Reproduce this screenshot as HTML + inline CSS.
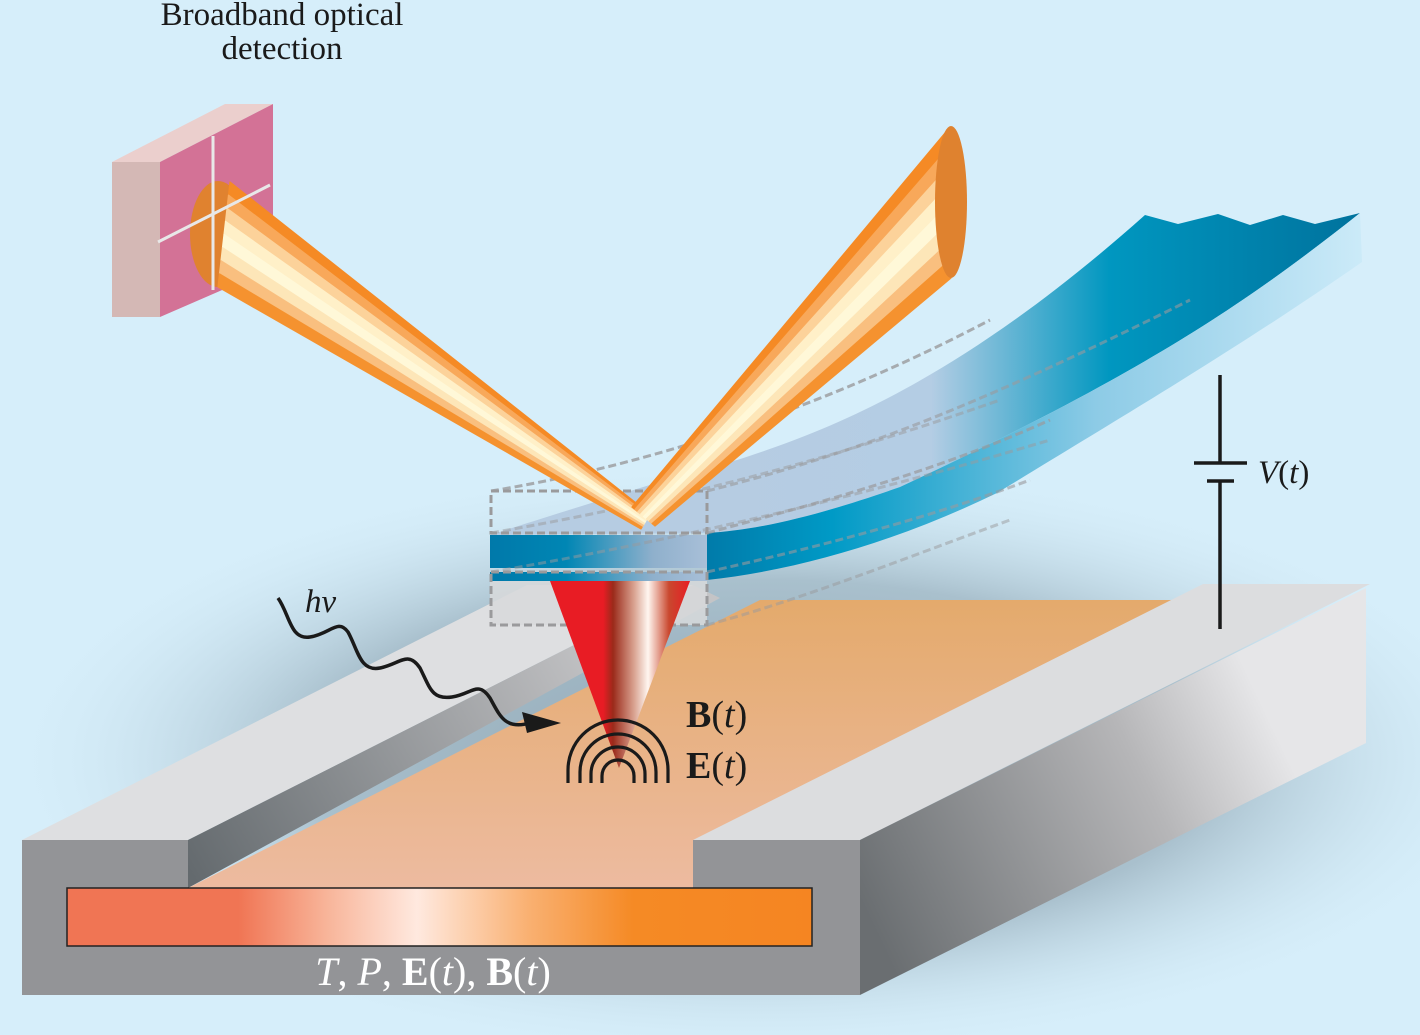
<!DOCTYPE html>
<html><head><meta charset="utf-8"><style>
html,body{margin:0;padding:0;background:#d6eefa;width:1420px;height:1035px;overflow:hidden;}
svg{display:block;}
text{font-family:"Liberation Serif",serif;}
</style></head><body>
<svg width="1420" height="1035" viewBox="0 0 1420 1035" xmlns="http://www.w3.org/2000/svg">
<defs>
<radialGradient id="shad" cx="0.5" cy="0.5" r="0.5">
<stop offset="0" stop-color="#8fa5b2"/><stop offset="0.6" stop-color="#a9c0cd"/><stop offset="1" stop-color="#d6eefa" stop-opacity="0"/>
</radialGradient>
<linearGradient id="bar" x1="67" y1="0" x2="812" y2="0" gradientUnits="userSpaceOnUse">
<stop offset="0" stop-color="#f07554"/><stop offset="0.23" stop-color="#f07554"/><stop offset="0.35" stop-color="#f8b59a"/><stop offset="0.47" stop-color="#ffe9df"/><stop offset="0.62" stop-color="#f9b071"/><stop offset="0.76" stop-color="#f58a25"/><stop offset="1" stop-color="#f58522"/>
</linearGradient>
<linearGradient id="floor" x1="0" y1="600" x2="0" y2="888" gradientUnits="userSpaceOnUse">
<stop offset="0" stop-color="#e4aa6c"/><stop offset="1" stop-color="#edbba0"/>
</linearGradient>
<linearGradient id="side" x1="860" y1="900" x2="1365" y2="660" gradientUnits="userSpaceOnUse">
<stop offset="0" stop-color="#6a6e71"/><stop offset="0.55" stop-color="#b6b6b8"/><stop offset="0.8" stop-color="#e6e6e8"/><stop offset="1" stop-color="#e6e6e8"/>
</linearGradient>
<linearGradient id="wall" x1="188" y1="870" x2="600" y2="640" gradientUnits="userSpaceOnUse">
<stop offset="0" stop-color="#646a6e"/><stop offset="1" stop-color="#c4c4c6"/>
</linearGradient>
<linearGradient id="tip" x1="550" y1="0" x2="690" y2="0" gradientUnits="userSpaceOnUse">
<stop offset="0" stop-color="#e81c24"/><stop offset="0.38" stop-color="#e81c24"/><stop offset="0.45" stop-color="#9b2a1a"/><stop offset="0.6" stop-color="#d9a290"/><stop offset="0.7" stop-color="#fff6f0"/><stop offset="0.85" stop-color="#c9482f"/><stop offset="1" stop-color="#e81c24"/>
</linearGradient>
<linearGradient id="topface" x1="700" y1="0" x2="1360" y2="0" gradientUnits="userSpaceOnUse">
<stop offset="0" stop-color="#b6cce2"/><stop offset="0.35" stop-color="#b4cde4"/><stop offset="0.62" stop-color="#0097c0"/><stop offset="1" stop-color="#00729d"/>
</linearGradient>
<linearGradient id="frontface" x1="700" y1="0" x2="1360" y2="0" gradientUnits="userSpaceOnUse">
<stop offset="0" stop-color="#0079a8"/><stop offset="0.2" stop-color="#009ac6"/><stop offset="0.6" stop-color="#8dcbe6"/><stop offset="1" stop-color="#cbeaf8"/>
</linearGradient>
<linearGradient id="frontnear" x1="490" y1="0" x2="707" y2="0" gradientUnits="userSpaceOnUse">
<stop offset="0" stop-color="#0079aa"/><stop offset="0.35" stop-color="#0086b4"/><stop offset="0.75" stop-color="#8fb0cc"/><stop offset="1" stop-color="#a8bfd8"/>
</linearGradient>
</defs>
<rect width="1420" height="1035" fill="#d6eefa"/>
<ellipse cx="760" cy="760" rx="760" ry="300" fill="url(#shad)"/>

<polygon points="22,840 188,840 693,585 527,585" fill="#dedfe1"/>
<polygon points="188,840 693,585 720,598 188,888" fill="url(#wall)"/>
<polygon points="188,888 760,600 1175,600 693,888" fill="url(#floor)"/>
<polygon points="693,840 860,840 1370,584 1203,584" fill="#dcdddf"/>
<polygon points="860,840 1366,588 1366,743 860,995" fill="url(#side)"/>
<polygon points="22,840 188,840 188,888 693,888 693,840 860,840 860,995 22,995" fill="#939497"/>
<rect x="67" y="888" width="745" height="58" fill="url(#bar)" stroke="#222" stroke-width="1.5"/>
<text x="433" y="985" font-size="40" fill="#fff" text-anchor="middle"><tspan font-style="italic">T</tspan>, <tspan font-style="italic">P</tspan>, <tspan font-weight="bold">E</tspan>(<tspan font-style="italic">t</tspan>), <tspan font-weight="bold">B</tspan>(<tspan font-style="italic">t</tspan>)</text>

<path d="M490,535 C600,500 680,475 737,460 C830,430 960,380 1145,215 L1178,224 L1218,214 L1250,225 L1283,215 L1315,224 L1360,213 C1250,300 1150,370 900,487 C820,515 760,530 707,533 Z" fill="url(#topface)"/>
<path d="M707,533 C760,530 820,515 900,487 C1150,370 1250,300 1360,213 L1362,262 C1250,340 1150,400 997,493 C900,540 800,570 707,580 Z" fill="url(#frontface)"/>
<rect x="490" y="535" width="217" height="33" fill="url(#frontnear)"/>
<rect x="490" y="572" width="217" height="9" fill="url(#frontnear)"/>
<rect x="490" y="581" width="217" height="44" fill="#d8d9db" opacity="0.85"/>

<g fill="none" stroke="#9a9a9c" stroke-width="3" stroke-dasharray="8,4">
<rect x="491" y="491" width="216" height="42"/>
<rect x="491" y="572" width="216" height="53"/>
<path d="M491,491 C620,470 800,420 990,320" opacity="0.8"/>
<path d="M707,491 C830,460 950,420 1190,300" opacity="0.6"/>
<path d="M707,533 C850,495 950,465 1050,420" opacity="0.7"/>
<path d="M491,533 C650,505 800,470 1000,400" opacity="0.5"/>
<path d="M491,572 C650,545 850,500 1050,440" opacity="0.5"/>
<path d="M707,572 C850,540 950,510 1030,480" opacity="0.6"/>
<path d="M707,625 C800,600 900,560 1010,520" opacity="0.5"/>
</g>

<!-- detector -->
<polygon points="112,162 160,162 273,104 225,104" fill="#ebcfcd"/>
<polygon points="112,162 160,162 160,317 112,317" fill="#d4b8b5"/>
<polygon points="160,162 273,104 273,268 160,317" fill="#d37296"/>
<ellipse cx="218" cy="234" rx="28" ry="53" fill="#e0822f"/>

<!-- left beam strips -->
<g stroke-width="1.2" stroke-linejoin="round">
<polygon points="230,182 228.5,195.1 648.9,515.9 650,514" fill="#f58a25" stroke="#f58a25"/>
<polygon points="228.5,195.1 227,208.3 647.8,517.8 648.9,515.9" fill="#f8a85a" stroke="#f8a85a"/>
<polygon points="227,208.3 225.5,221.4 646.6,519.6 647.8,517.8" fill="#fcd29a" stroke="#fcd29a"/>
<polygon points="225.5,221.4 224,234.5 645.5,521.5 646.6,519.6" fill="#fff0c8" stroke="#fff0c8"/>
<polygon points="224,234.5 222.5,247.6 644.4,523.4 645.5,521.5" fill="#fff8d8" stroke="#fff8d8"/>
<polygon points="222.5,247.6 221,260.8 643.3,525.3 644.4,523.4" fill="#fde6b8" stroke="#fde6b8"/>
<polygon points="221,260.8 219.5,273.9 642.1,527.1 643.3,525.3" fill="#f9bf7f" stroke="#f9bf7f"/>
<polygon points="219.5,273.9 218,287 641,529 642.1,527.1" fill="#f5922f" stroke="#f5922f"/>
</g>
<line x1="213" y1="136" x2="213" y2="290" stroke="#e8e8e8" stroke-width="3"/>
<line x1="158" y1="242" x2="270" y2="185" stroke="#e8e8e8" stroke-width="3"/>
<ellipse cx="218" cy="234" rx="28" ry="53" fill="#e0822f" clip-path="inset(0 0 0 0)" opacity="0"/>

<!-- right beam strips -->
<g stroke-width="1.2" stroke-linejoin="round">
<polygon points="950,127 950.1,145.9 634.9,509.4 632,507" fill="#f58a25" stroke="#f58a25"/>
<polygon points="950.1,145.9 950.3,164.8 637.8,511.8 634.9,509.4" fill="#f8a85a" stroke="#f8a85a"/>
<polygon points="950.3,164.8 950.4,183.6 640.6,514.1 637.8,511.8" fill="#fcd29a" stroke="#fcd29a"/>
<polygon points="950.4,183.6 950.5,202.5 643.5,516.5 640.6,514.1" fill="#fff0c8" stroke="#fff0c8"/>
<polygon points="950.5,202.5 950.6,221.4 646.4,518.9 643.5,516.5" fill="#fff8d8" stroke="#fff8d8"/>
<polygon points="950.6,221.4 950.8,240.3 649.3,521.3 646.4,518.9" fill="#fde6b8" stroke="#fde6b8"/>
<polygon points="950.8,240.3 950.9,259.1 652.1,523.6 649.3,521.3" fill="#f9bf7f" stroke="#f9bf7f"/>
<polygon points="950.9,259.1 951,278 655,526 652.1,523.6" fill="#f5922f" stroke="#f5922f"/>
</g>
<ellipse cx="951" cy="202" rx="16" ry="76" fill="#df822f"/>

<polygon points="550,581 690,581 619,768" fill="url(#tip)"/>

<g fill="none" stroke="#1a1a1a" stroke-width="3.2">
<path d="M602,783 V776 A16,16 0 0 1 634,776 V783"/>
<path d="M591,783 V774 A27,27 0 0 1 645,774 V783"/>
<path d="M580,783 V772 A38,38 0 0 1 656,772 V783"/>
<path d="M568,783 V770 A50,50 0 0 1 668,770 V783"/>
</g>
<text x="686" y="727" font-size="38" fill="#1a1a1a"><tspan font-weight="bold">B</tspan>(<tspan font-style="italic">t</tspan>)</text>
<text x="686" y="778" font-size="38" fill="#1a1a1a"><tspan font-weight="bold">E</tspan>(<tspan font-style="italic">t</tspan>)</text>

<path d="M278,598 C290,615 290,640 310,637 C330,634 338,618 348,632 C358,650 360,672 380,668 C400,664 408,650 420,668 C430,688 432,700 452,697 C472,694 478,680 490,698 C500,716 505,730 530,723" fill="none" stroke="#1a1a1a" stroke-width="3.5"/>
<polygon points="522,712 561,723 527,733" fill="#1a1a1a"/>
<text x="305" y="612" font-size="33" font-style="italic" fill="#1a1a1a">hv</text>

<line x1="1220" y1="375" x2="1220" y2="463" stroke="#1a1a1a" stroke-width="3.5"/>
<line x1="1194" y1="463" x2="1247" y2="463" stroke="#1a1a1a" stroke-width="3.5"/>
<line x1="1207" y1="481" x2="1234" y2="481" stroke="#1a1a1a" stroke-width="3.5"/>
<line x1="1220" y1="481" x2="1220" y2="629" stroke="#1a1a1a" stroke-width="3.5"/>
<text x="1258" y="483" font-size="33" fill="#1a1a1a"><tspan font-style="italic">V</tspan>(<tspan font-style="italic">t</tspan>)</text>

<text x="282" y="25" font-size="33" fill="#1a1a1a" text-anchor="middle">Broadband optical</text>
<text x="282" y="59" font-size="33" fill="#1a1a1a" text-anchor="middle">detection</text>
</svg>
</body></html>
